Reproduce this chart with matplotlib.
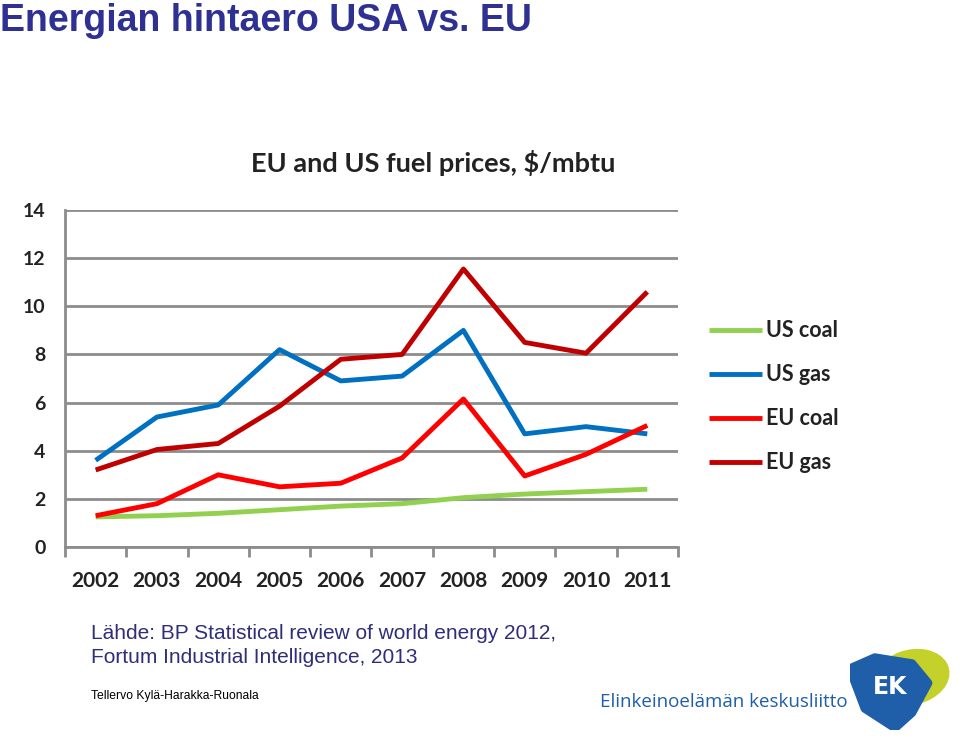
import numpy as np
import matplotlib.pyplot as plt
from matplotlib.patches import Ellipse, Polygon

# data
years = ['2002', '2003', '2004', '2005', '2006', '2007', '2008', '2009', '2010', '2011']
us_coal = [1.25, 1.3, 1.4, 1.55, 1.7, 1.8, 2.05, 2.2, 2.3, 2.4]
us_gas = [3.6, 5.4, 5.9, 8.2, 6.9, 7.1, 9.0, 4.7, 5.0, 4.7]
eu_coal = [1.3, 1.8, 3.0, 2.5, 2.65, 3.7, 6.15, 2.95, 3.85, 5.05]
eu_gas = [3.2, 4.05, 4.3, 5.85, 7.8, 8.0, 11.55, 8.5, 8.05, 10.6]

series = [('US coal', us_coal, '#92d050'),
          ('US gas', us_gas, '#0070c0'),
          ('EU coal', eu_coal, '#ff0000'),
          ('EU gas', eu_gas, '#c00000')]

navy = '#2e3192'

fig = plt.figure(figsize=(9.6, 7.41), dpi=100)

# slide title
fig.text(0.0, 0.958, 'Energian hintaero USA vs. EU', fontsize=27, fontweight='bold',
         color=navy, family='Liberation Sans', va='baseline')

# chart
ax = fig.add_axes([0.0677, 0.2618, 0.6385, 0.4548])
x = np.arange(len(years))
for name, vals, col in series:
    ax.plot(x, vals, color=col, lw=3.5, label=name, solid_capstyle='butt')

ax.set_xlim(-0.5, len(years) - 0.5)
ax.set_ylim(0, 14)
ax.set_yticks(np.arange(0, 15, 2))
ax.yaxis.grid(True, color='#8c8c8c', lw=2)
ax.set_axisbelow(True)
for s in ['top', 'right']:
    ax.spines[s].set_visible(False)
ax.spines['left'].set_color('#8c8c8c')
ax.spines['left'].set_linewidth(2)
ax.spines['bottom'].set_color('#8c8c8c')
ax.spines['bottom'].set_linewidth(2)
ax.tick_params(axis='y', length=0, pad=14, labelsize=14, labelcolor='#222222')
ax.set_xticks(x)
ax.set_xticklabels(years)
ax.set_xticks(np.arange(-0.5, len(years)), minor=True)
ax.tick_params(axis='x', which='major', length=0, pad=17, labelsize=15, labelcolor='#222222')
ax.tick_params(axis='x', which='minor', length=7, width=2, color='#8c8c8c')
for lab in ax.get_xticklabels() + ax.get_yticklabels():
    lab.set_family('Lato')
    lab.set_fontweight('bold')

ax.set_title('EU and US fuel prices, $/mbtu', fontsize=19.5, fontweight='bold',
             family='Lato', color='#222222', pad=27, x=0.6)

leg = fig.legend(loc='upper left', bbox_to_anchor=(0.718, 0.594), frameon=False,
                 handlelength=2.5, handletextpad=0.15, labelspacing=1.07,
                 prop={'family': 'Lato', 'weight': 'bold', 'size': 15.5})
for t in leg.get_texts():
    t.set_color('#222222')

# source and author
fig.text(0.095, 0.1, 'Lähde: BP Statistical review of world energy 2012,\nFortum Industrial Intelligence, 2013',
         fontsize=15, color='#2e2e7a', family='Liberation Sans', linespacing=1.3, va='bottom')
fig.text(0.095, 0.053, 'Tellervo Kylä-Harakka-Ruonala', fontsize=8.7, color='black',
         family='Liberation Sans', va='bottom')

# logo
fig.text(0.625, 0.04, 'Elinkeinoelämän keskusliitto', fontsize=13.5, color='#1f5ea8',
         family='Open Sans', va='bottom')
lax = fig.add_axes([0.885, 0.015, 0.105, 0.115])
lax.set_xlim(0, 1)
lax.set_ylim(0, 1)
lax.axis('off')
lax.add_patch(Ellipse((0.62, 0.62), 0.75, 0.62, angle=25, color='#c3d12a'))
lax.add_patch(Polygon([[0.0, 0.72], [0.25, 0.85], [0.62, 0.78], [0.78, 0.55],
                       [0.62, 0.2], [0.45, 0.02], [0.15, 0.25]], closed=True,
                      color='#1f5ea8', joinstyle='round', lw=6))
lax.text(0.4, 0.5, 'EK', color='white', fontsize=17, fontweight='bold',
         family='DejaVu Sans', ha='center', va='center')

fig.savefig('out.png', dpi=100)
